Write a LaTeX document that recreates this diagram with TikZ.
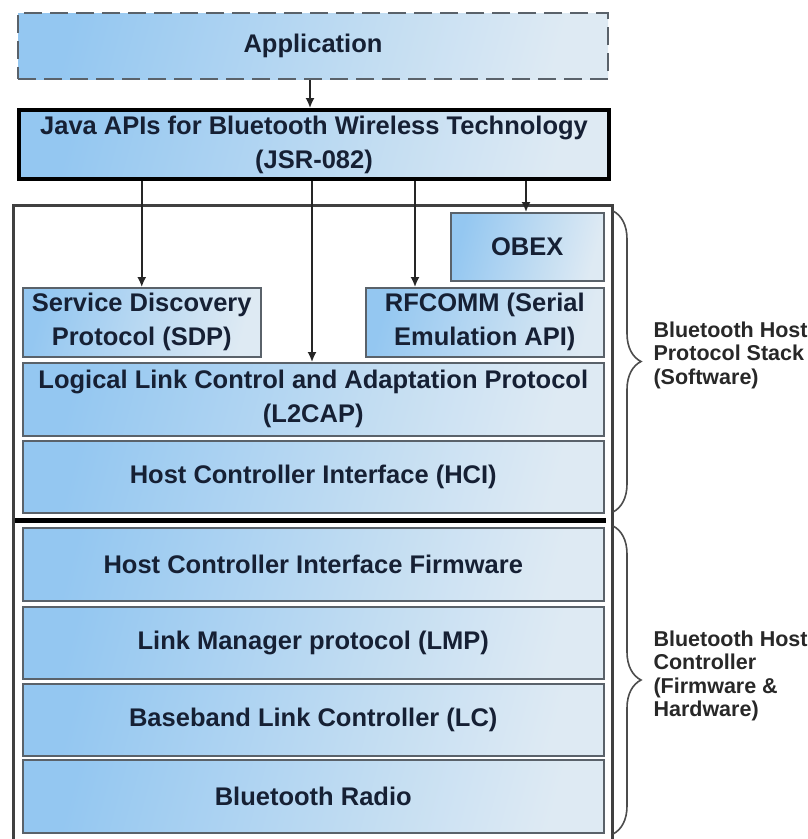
\documentclass[tikz,border=0pt]{standalone}
\usepackage{fontspec}
\setmainfont{Liberation Sans}
\usetikzlibrary{arrows.meta,decorations.pathreplacing}
\definecolor{txt}{RGB}{22,32,52}
\definecolor{lbl}{RGB}{40,40,40}
\definecolor{bord}{RGB}{90,98,106}
\definecolor{fillA}{RGB}{148,199,241}
\definecolor{fillB}{RGB}{222,234,243}
\begin{document}
\begin{tikzpicture}[x=1pt,y=-1pt,
  box/.style={draw=bord, line width=1.5pt, left color=fillA, right color=fillB, shading angle=75,
    inner sep=0pt, anchor=north west, align=center, text=txt,
    font=\fontsize{25.5}{34}\selectfont\bfseries},
  appbox/.style={box, dash pattern=on 18pt off 8pt, line width=2pt},
  javabox/.style={box, draw=black, line width=4pt},
  arr/.style={draw=black!85, line width=1.7pt, -{Latex[length=10pt,width=9pt]}},
  frame/.style={draw=black!75, line width=3pt},
  sep/.style={draw=black, line width=5pt},
  brc/.style={draw=black!70, line width=1.6pt, decorate, decoration={brace, amplitude=28pt}},
  lab/.style={anchor=west, align=left, text=lbl, font=\fontsize{21.5}{23.5}\selectfont\bfseries}
]
\useasboundingbox (0,0) rectangle (808,839);
\fill[white] (0,0) rectangle (808,839);

% outer frame
\draw[frame] (13,841) -- (13,205) -- (612,205) -- (612,841);

% boxes
\node[appbox, minimum width=590pt, minimum height=66pt] (app) at (17,12) {Application};
\node[javabox, minimum width=590pt, minimum height=69pt] (java) at (17,108) {Java APIs for Bluetooth Wireless Technology\\(JSR-082)};
\node[box, minimum width=153pt, minimum height=68pt] (obex) at (450,212) {OBEX};
\node[box, minimum width=238pt, minimum height=69pt] (sdp) at (22,287) {Service Discovery\\Protocol (SDP)};
\node[box, minimum width=238pt, minimum height=69pt] (rfcomm) at (365,287) {RFCOMM (Serial\\Emulation API)};
\node[box, minimum width=581pt, minimum height=73pt] (l2cap) at (22,362) {Logical Link Control and Adaptation Protocol\\(L2CAP)};
\node[box, minimum width=581pt, minimum height=72pt] (hci) at (22,440) {Host Controller Interface (HCI)};
\node[box, minimum width=581pt, minimum height=73pt] (hcif) at (22,527) {Host Controller Interface Firmware};
\node[box, minimum width=581pt, minimum height=72pt] (lmp) at (22,606) {Link Manager protocol (LMP)};
\node[box, minimum width=581pt, minimum height=72pt] (lc) at (22,683) {Baseband Link Controller (LC)};
\node[box, minimum width=581pt, minimum height=73pt] (radio) at (22,759) {Bluetooth Radio};

% separator between host stack and controller
\draw[sep] (15,520) -- (606,520);

% arrows
\draw[arr] (app.south -| 310,0) -- (java.north -| 310,0);
\draw[arr] (java.south -| sdp.north) -- (sdp.north);
\draw[arr] (java.south -| 312,0) -- (l2cap.north -| 312,0);
\draw[arr] (java.south -| 415,0) -- (rfcomm.north -| 415,0);
\draw[arr] (java.south -| 526,0) -- (obex.north -| 526,0);

% braces
\coordinate (b1t) at (613,211);
\coordinate (b1b) at (613,512);
\coordinate (b2t) at (613,526);
\coordinate (b2b) at (613,834);
\draw[brc] (b1t) -- (b1b);
\draw[brc] (b2t) -- (b2b);

% labels
\node[lab] (l1) at (650,355) {Bluetooth Host\\Protocol Stack\\(Software)};
\node[lab] (l2) at (650,676) {Bluetooth Host\\Controller\\(Firmware \&\\Hardware)};
\end{tikzpicture}
\end{document}
